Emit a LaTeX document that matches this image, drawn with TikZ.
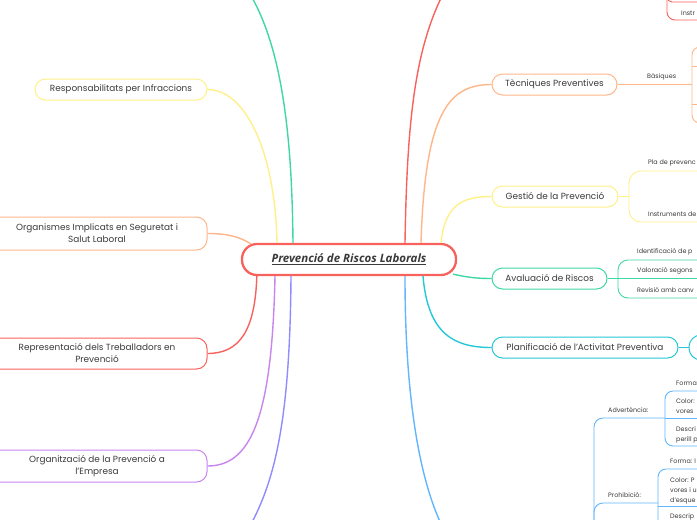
\documentclass[tikz,border=0pt]{standalone}
\usepackage{fontspec}
\setmainfont{Poppins}
\newfontfamily\titlefont{Open Sans}
\usepackage{xcolor}
\usepackage{tikz}
\usetikzlibrary{calc}
\definecolor{inkgray}{HTML}{3A3A3A}
\definecolor{mapred}{HTML}{F8625D}
\definecolor{maporange}{HTML}{FFB688}
\definecolor{mapyellow}{HTML}{FFF08A}
\definecolor{mapgreen}{HTML}{3FD8A4}
\definecolor{mapcyan}{HTML}{24C8D6}
\definecolor{mapblue}{HTML}{62B6FF}
\definecolor{mappurple}{HTML}{C885F0}
\definecolor{mapviolet}{HTML}{8E8CFF}

\begin{document}
\begin{tikzpicture}[x=1pt,y=-1pt,
  every node/.style={font=\fontsize{8.9}{12}\selectfont,align=center,inner sep=2pt,text=inkgray},
  root/.style={draw=mapred,rounded corners=15pt,fill=white,line width=2.3pt,minimum width=214pt,minimum height=31pt},
  topic/.style={draw=#1,rounded corners=10.5pt,fill=white,line width=1pt,minimum height=21pt},
  branch/.style={draw=#1,line width=1.4pt},
  twig/.style={draw=#1,line width=0.9pt,rounded corners=8pt},
  leaf/.style={font=\fontsize{6.4}{10.4}\selectfont,anchor=west,inner sep=0pt,align=left}
]
  \useasboundingbox (0,0) rectangle (697,520);
  \fill[white] (0,0) rectangle (697,520);
  \clip (0,0) rectangle (697,520);
  \node[root] (ctr) at (349,259.5) {\titlefont\bfseries\itshape\fontsize{11.5}{13}\selectfont\underline{Prevenció de Riscos Laborals}};
  \node[topic=mapyellow,minimum width=172pt] (resp) at (121,89.5) {Responsabilitats per Infraccions};
  \node[topic=maporange,minimum width=220pt,minimum height=33pt] (orgs) at (97,233.5) {Organismes Implicats en Seguretat i\\Salut Laboral};
  \node[topic=mapred,minimum width=220pt,minimum height=31pt] (repr) at (97,353.5) {Representació dels Treballadors en\\Prevenció};
  \node[topic=mappurple,minimum width=220pt,minimum height=32pt] (orgz) at (97,466) {Organització de la Prevenció a\\l'Empresa};
  \node[topic=maporange,minimum width=125pt] (tecn) at (554.5,84.5) {Tècniques Preventives};
  \node[topic=mapyellow,minimum width=126pt] (gest) at (555,196.5) {Gestió de la Prevenció};
  \node[topic=mapgreen,minimum width=115pt] (aval) at (549.5,278.5) {Avaluació de Riscos};
  \node[topic=mapcyan,minimum width=186pt] (plan) at (585,347.5) {Planificació de l'Activitat Preventiva};
  \node[topic=mapcyan,minimum width=142pt,minimum height=25pt,rounded corners=12pt] (plansub) at (760,347.5) {};
  \coordinate (topl) at (250,-6);
  \coordinate (topr) at (443,-6);
  \coordinate (botl) at (250,526);
  \coordinate (botr) at (442,526);
  \draw[branch=mapgreen] ($(ctr.north)+(-56,0)$) .. controls (292,140) and (283,50) .. (topl);
  \draw[branch=mapyellow] ($(ctr.north)+(-72,0)$) .. controls (275,150) and (245,89.5) .. (resp.east);
  \draw[branch=maporange] ($(ctr.north west)+(10,1)$) .. controls (240,237) and (228,233.5) .. (orgs.east);
  \draw[branch=mapred] ($(ctr.south west)+(16,0)$) .. controls (255,330) and (240,353.5) .. (repr.east);
  \draw[branch=mappurple] ($(ctr.south)+(-74,0)$) .. controls (272,420) and (250,466) .. (orgz.east);
  \draw[branch=mapviolet] ($(ctr.south)+(-58,0)$) .. controls (290,420) and (275,480) .. (botl);
  \draw[branch=mapred] ($(ctr.north)+(56,0)$) .. controls (407,120) and (415,50) .. (topr);
  \draw[branch=maporange] ($(ctr.north)+(72,0)$) .. controls (425,110) and (450,84.5) .. (tecn.west);
  \draw[branch=mapyellow] ($(ctr.north)+(92,0)$) .. controls (445,205) and (462,196.5) .. (gest.west);
  \draw[branch=mapgreen] ($(ctr.south east)+(-4,-2)$) .. controls (470,278) and (480,278.5) .. (aval.west);
  \draw[branch=mapcyan] ($(ctr.south)+(74,0)$) .. controls (428,335) and (455,347.5) .. (plan.west);
  \draw[branch=mapblue] ($(ctr.south)+(56,0)$) .. controls (405,400) and (420,480) .. (botr);
  \node[leaf] (basq) at (647,77) {Bàsiques};
  \draw[twig=maporange] (tecn.east) -- (692,84.5);
  \draw[twig=maporange] (705,47) -- (692,47) -- (692,123) -- (705,123);
  \draw[twig=maporange] (705,66) -- (692,66) (692,104) -- (705,104);
  \node[leaf] (plapr) at (648,163) {Pla de prevenc};
  \node[leaf] (instg) at (648,214) {Instruments de};
  \draw[twig=mapyellow] (gest.east) -- (629,196.5);
  \draw[twig=mapyellow,rounded corners=12pt] (705,171) -- (629,171) -- (629,222) -- (705,222);
  \node[leaf] (ident) at (637,252) {Identificació de p};
  \node[leaf] (valor) at (637,271) {Valoració segons};
  \node[leaf] (revis) at (637,290) {Revisió amb canv};
  \draw[twig=mapgreen] (aval.east) -- (705,278.5);
  \draw[twig=mapgreen,rounded corners=10pt] (705,260) -- (618,260) -- (618,298) -- (705,298);
  \draw[twig=mapcyan] (plan.east) -- (plansub.west);
  \node[leaf] (instr) at (681,13) {Instr};
  \draw[twig=mapred] (667,-12) -- (667,20) -- (705,20);
  \draw[twig=mapred,rounded corners=5pt] (667,-12) -- (667,2) -- (705,2);
  \node[leaf] (adver) at (608,410) {Advertència:};
  \node[leaf] (formaa) at (676,383) {Forma};
  \node[leaf] (colora) at (676,406) {Color:\\vores};
  \node[leaf] (descra) at (676,435) {Descri\\perill p};
  \draw[twig=mapblue,rounded corners=9pt] (594,530) -- (594,418) -- (665,418);
  \draw[twig=mapblue] (705,391) -- (665,391) -- (665,446) -- (705,446);
  \draw[twig=mapblue] (665,418) -- (705,418);
  \node[leaf] (prohi) at (608,495) {Prohibició:};
  \node[leaf] (formap) at (670,461) {Forma: I};
  \node[leaf] (colorp) at (670,491) {Color: P\\vores i u\\d'esque};
  \node[leaf] (descrp) at (670,517) {Descrip};
  \draw[twig=mapblue,rounded corners=9pt] (658,503) -- (594,503) -- (594,530);
  \draw[twig=mapblue] (705,469) -- (658,469) -- (658,530);
  \draw[twig=mapblue] (658,506) -- (705,506);
\end{tikzpicture}
\end{document}
